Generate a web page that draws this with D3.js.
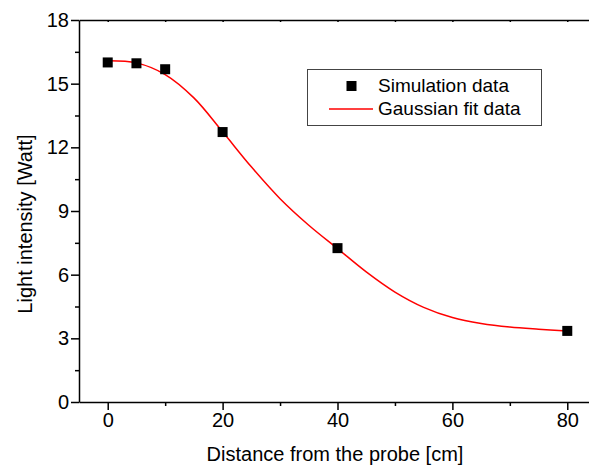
<!DOCTYPE html>
<html>
    <head>
        <script src="https://d3js.org/d3.v7.min.js"></script>
        <style>
            body { margin: 0; background: #fff; }
            svg { font-family: Arial, "Liberation Sans", sans-serif; }
            .axis path, .axis line { stroke: #000; stroke-width: 1.5; fill: none; }
            .axis text { font-size: 20px; fill: #000; }
        </style>
    </head>
    <body>
        <div id="chart"></div>
    </body>
    <script>
        // simulation points
        var simX = [0, 5, 10, 20, 40, 80];
        var simY = [16.0, 15.96, 15.68, 12.72, 7.25, 3.35];

        // gaussian fit curve, every 5 cm
        var fitX = [0, 5, 10, 15, 20, 25, 30, 35, 40, 45, 50, 55, 60, 65, 70, 75, 80];
        var fitY = [16.08, 15.98, 15.43, 14.33, 12.73, 11.08, 9.58, 8.33, 7.23, 6.13, 5.18, 4.46, 3.98, 3.70, 3.53, 3.43, 3.35];

        var xTicks = [0, 20, 40, 60, 80];
        var xMinor = [10, 30, 50, 70];
        var yTicks = [0, 3, 6, 9, 12, 15, 18];
        var yMinor = [1.5, 4.5, 7.5, 10.5, 13.5, 16.5];

        var W = 589, H = 469;
        var plotL = 79, plotT = 20, plotR = 596, plotB = 402;

        var svg = d3.select("#chart").append("svg")
            .attr("width", W)
            .attr("height", H);

        var x = d3.scaleLinear().domain([-5, 85]).range([plotL, plotR]);
        var y = d3.scaleLinear().domain([0, 18]).range([plotB, plotT]);

        // bottom axis
        svg.append("g").attr("class", "axis")
            .attr("transform", "translate(0," + plotB + ")")
            .call(d3.axisBottom(x).tickValues(xTicks).tickSizeInner(8).tickSizeOuter(0).tickPadding(3));
        svg.append("g").attr("class", "axis")
            .attr("transform", "translate(0," + plotB + ")")
            .call(d3.axisBottom(x).tickValues(xMinor).tickSize(4).tickFormat(""))
            .select(".domain").remove();

        // top axis, small inward ticks
        svg.append("g").attr("class", "axis")
            .attr("transform", "translate(0," + plotT + ")")
            .call(d3.axisTop(x).tickValues(xTicks.concat(xMinor)).tickSizeInner(-2).tickSizeOuter(0).tickFormat(""));

        // left axis
        svg.append("g").attr("class", "axis")
            .attr("transform", "translate(" + plotL + ",0)")
            .call(d3.axisLeft(y).tickValues(yTicks).tickSizeInner(8).tickSizeOuter(0).tickPadding(2));
        svg.append("g").attr("class", "axis")
            .attr("transform", "translate(" + plotL + ",0)")
            .call(d3.axisLeft(y).tickValues(yMinor).tickSize(4).tickFormat(""))
            .select(".domain").remove();

        // fit line
        var fit = fitX.map(function(d, i) { return {x: d, y: fitY[i]}; });
        var line = d3.line()
            .x(function(d) { return x(d.x); })
            .y(function(d) { return y(d.y); })
            .curve(d3.curveCatmullRom);
        svg.append("path")
            .attr("d", line(fit))
            .attr("fill", "none")
            .attr("stroke", "#ff0000")
            .attr("stroke-width", 1.5);

        // markers
        var sim = simX.map(function(d, i) { return {x: d, y: simY[i]}; });
        var ms = 10;
        svg.selectAll(".pt").data(sim).enter().append("rect")
            .attr("class", "pt")
            .attr("x", function(d) { return x(d.x) - ms / 2; })
            .attr("y", function(d) { return y(d.y) - ms / 2; })
            .attr("width", ms)
            .attr("height", ms)
            .attr("fill", "#000");

        // axis titles
        svg.append("text")
            .attr("x", 335)
            .attr("y", 461)
            .attr("text-anchor", "middle")
            .style("font-size", "20px")
            .text("Distance from the probe [cm]");
        svg.append("text")
            .attr("transform", "translate(32,224) rotate(-90)")
            .attr("text-anchor", "middle")
            .style("font-size", "20px")
            .text("Light intensity [Watt]");

        // legend
        var lg = svg.append("g");
        lg.append("rect")
            .attr("x", 307.5).attr("y", 69.5)
            .attr("width", 234).attr("height", 56)
            .attr("fill", "#fff")
            .attr("stroke", "#444")
            .attr("stroke-width", 1);
        lg.append("rect")
            .attr("x", 351.5 - ms / 2).attr("y", 86 - ms / 2)
            .attr("width", ms).attr("height", ms)
            .attr("fill", "#000");
        lg.append("line")
            .attr("x1", 329).attr("x2", 373)
            .attr("y1", 109).attr("y2", 109)
            .attr("stroke", "#ff0000")
            .attr("stroke-width", 1.5);
        lg.append("text")
            .attr("x", 378).attr("y", 92)
            .style("font-size", "19px")
            .text("Simulation data");
        lg.append("text")
            .attr("x", 378).attr("y", 115)
            .style("font-size", "19px")
            .text("Gaussian fit data");
    </script>
</html>
